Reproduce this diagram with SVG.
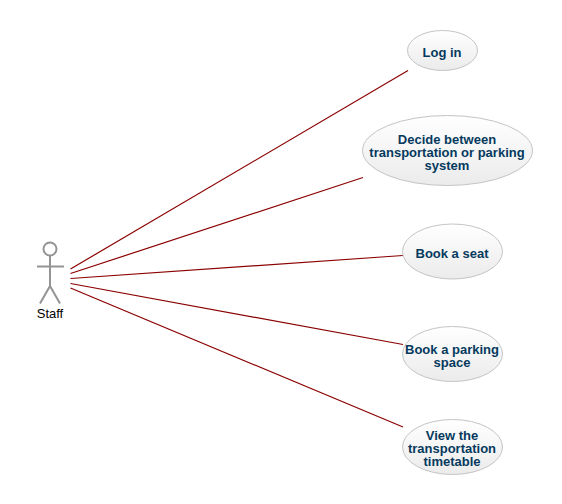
<svg xmlns="http://www.w3.org/2000/svg" width="562" height="504" viewBox="0 0 562 504">
<style>
.uc{stroke:#c4c4c4;stroke-width:1;fill:url(#g)}
.t{font-family:"Liberation Sans",Arial,sans-serif;font-size:13px;font-weight:bold;fill:#053a5e;text-anchor:middle}
.a{stroke:#949494;stroke-width:2;fill:none}
.c{stroke:#8b0000;stroke-width:1.2;fill:none}
</style>
<defs><linearGradient id="g" x1="0" y1="0" x2="0" y2="1"><stop offset="0" stop-color="#ffffff"/><stop offset="1" stop-color="#ebebeb"/></linearGradient></defs>
<rect width="562" height="504" fill="#fff"/>
<g id="connectors">
<line class="c" x1="70.500" y1="269" x2="408" y2="70.500"/>
<line class="c" x1="70.500" y1="273.500" x2="363" y2="177.500"/>
<line class="c" x1="70.500" y1="278.500" x2="403" y2="255.500"/>
<line class="c" x1="70.500" y1="283.500" x2="403" y2="344.500"/>
<line class="c" x1="70.500" y1="288" x2="403" y2="427"/>
</g>
<g id="staff">
<circle class="a" cx="50" cy="249" r="6.500"/>
<path class="a" d="M50 255.500V286M37 266.500H64M50 286L40 303.500M50 286L60 303.500"/>
<text x="50" y="318" text-anchor="middle" font-family="'Liberation Sans',Arial,sans-serif" font-size="13px" fill="#000">Staff</text>
</g>
<g id="login"><ellipse class="uc" cx="442.500" cy="50.500" rx="35" ry="20"/><text class="t" x="442" y="56.500">Log in</text></g>
<g id="decide"><ellipse class="uc" cx="447.500" cy="150.500" rx="85" ry="35"/><text class="t" x="447" y="143.500">Decide between</text><text class="t" x="447" y="156.500">transportation or parking</text><text class="t" x="447" y="169.500">system</text></g>
<g id="seat"><ellipse class="uc" cx="452.500" cy="251.500" rx="50" ry="27.500"/><text class="t" x="452" y="258">Book a seat</text></g>
<g id="parking"><ellipse class="uc" cx="452.500" cy="354" rx="50" ry="27.500"/><text class="t" x="452" y="354">Book a parking</text><text class="t" x="452" y="367">space</text></g>
<g id="timetable"><ellipse class="uc" cx="452.500" cy="447" rx="50" ry="27.500"/><text class="t" x="452" y="440">View the</text><text class="t" x="452" y="453">transportation</text><text class="t" x="452" y="466">timetable</text></g>
</svg>
